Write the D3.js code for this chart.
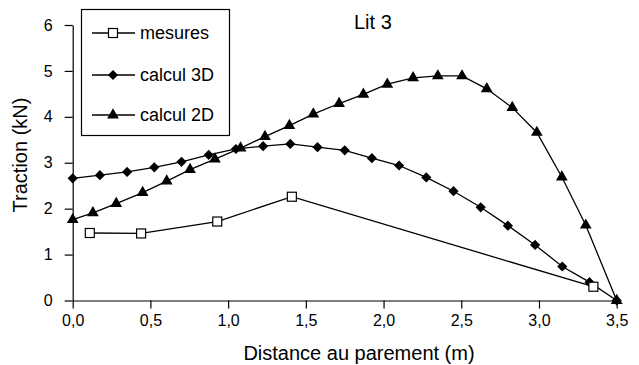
<!DOCTYPE html>
<html>
<head>
<meta charset="utf-8">
<script src="https://cdn.jsdelivr.net/npm/d3@7"></script>
<style>
  body { margin: 0; background: #fff; }
  svg text { font-family: "Liberation Sans", Arial, sans-serif; fill: #000; }
</style>
</head>
<body>
<div id="chart"></div>
<script>
// mesures (squares)
var mesuresX = [0.11, 0.44, 0.93, 1.41, 3.35]
var mesuresY = [1.47, 1.46, 1.72, 2.26, 0.30]

// calcul 3D (diamonds)
var calc3dX = [0, 0.175, 0.35, 0.525, 0.70, 0.875, 1.05, 1.225, 1.40, 1.575, 1.75,
  1.925, 2.10, 2.275, 2.45, 2.625, 2.80, 2.975, 3.15, 3.325, 3.50]
var calc3dY = [2.66, 2.73, 2.80, 2.90, 3.02, 3.17, 3.30, 3.36, 3.41, 3.34, 3.27,
  3.10, 2.94, 2.68, 2.38, 2.03, 1.63, 1.21, 0.74, 0.40, 0]

// calcul 2D (triangles)
var calc2dX = [0, 0.13, 0.28, 0.45, 0.605, 0.755, 0.915, 1.08, 1.237, 1.394, 1.548,
  1.714, 1.87, 2.024, 2.19, 2.349, 2.505, 2.664, 2.828, 2.986, 3.147, 3.301, 3.50]
var calc2dY = [1.76, 1.91, 2.11, 2.35, 2.60, 2.85, 3.08, 3.32, 3.57, 3.81, 4.06,
  4.29, 4.49, 4.71, 4.85, 4.89, 4.89, 4.61, 4.20, 3.66, 2.69, 1.64, 0]

var xTickValues = [0, 0.5, 1, 1.5, 2, 2.5, 3, 3.5]
var xTickLabels = ["0,0", "0,5", "1,0", "1,5", "2,0", "2,5", "3,0", "3,5"]
var yTickValues = [0, 1, 2, 3, 4, 5, 6]
var yTickLabels = ["0", "1", "2", "3", "4", "5", "6"]

var seriesNames = ["mesures", "calcul 3D", "calcul 2D"]

var width = 639, height = 365

var svg = d3.select('#chart').append('svg')
  .attr('width', width)
  .attr('height', height)

var x = d3.scaleLinear()
  .domain([0, 3.5])
  .range([72.7, 616.7])

var y = d3.scaleLinear()
  .domain([0, 6])
  .range([300.5, 25])

// axes
var xAxis = d3.axisBottom(x)
  .tickValues(xTickValues)
  .tickFormat(function(d, i) { return xTickLabels[i] })
  .tickSizeInner(8)
  .tickSizeOuter(0)
  .tickPadding(6)

var yAxis = d3.axisLeft(y)
  .tickValues(yTickValues)
  .tickFormat(function(d, i) { return yTickLabels[i] })
  .tickSizeInner(8)
  .tickSizeOuter(0)
  .tickPadding(12)

var gx = svg.append('g')
  .attr('transform', 'translate(0,' + y(0) + ')')
  .call(xAxis)
var gy = svg.append('g')
  .attr('transform', 'translate(' + x(0) + ',0)')
  .call(yAxis)

svg.selectAll('.domain, .tick line').attr('stroke', '#000').attr('stroke-width', 1.2)
gx.selectAll('text').attr('font-size', 16).attr('font-family', '"Liberation Sans", Arial, sans-serif')
gy.selectAll('text').attr('font-size', 16).attr('font-family', '"Liberation Sans", Arial, sans-serif')

// axis titles
svg.append('text')
  .attr('x', 359)
  .attr('y', 360)
  .attr('text-anchor', 'middle')
  .attr('font-size', 20)
  .text('Distance au parement (m)')

svg.append('text')
  .attr('transform', 'translate(27,155) rotate(-90)')
  .attr('text-anchor', 'middle')
  .attr('font-size', 20)
  .text('Traction (kN)')

svg.append('text')
  .attr('x', 354)
  .attr('y', 29)
  .attr('font-size', 20)
  .text('Lit 3')

// lines
var line = d3.line()
  .x(function(d) { return x(d[0]) })
  .y(function(d) { return y(d[1]) })

var mesures = d3.zip(mesuresX, mesuresY)
var calc3d = d3.zip(calc3dX, calc3dY)
var calc2d = d3.zip(calc2dX, calc2dY)

var plot = svg.append('g')

plot.append('path').datum(calc2d).attr('d', line)
  .attr('fill', 'none').attr('stroke', '#000').attr('stroke-width', 1.3)
plot.append('path').datum(calc3d).attr('d', line)
  .attr('fill', 'none').attr('stroke', '#000').attr('stroke-width', 1.3)
plot.append('path').datum(mesures).attr('d', line)
  .attr('fill', 'none').attr('stroke', '#000').attr('stroke-width', 1.3)

// markers
var triSym = d3.symbol().type(d3.symbolTriangle).size(60)
var diaSym = d3.symbol().type(d3.symbolSquare).size(52)

function drawTriangles(g, data) {
  g.selectAll(null).data(data).enter().append('path')
    .attr('d', triSym)
    .attr('transform', function(d) { return 'translate(' + x(d[0]) + ',' + y(d[1]) + ')' })
    .attr('fill', '#000')
}
function drawDiamonds(g, data) {
  g.selectAll(null).data(data).enter().append('path')
    .attr('d', diaSym)
    .attr('transform', function(d) { return 'translate(' + x(d[0]) + ',' + y(d[1]) + ') rotate(45)' })
    .attr('fill', '#000')
}
function drawSquares(g, data) {
  g.selectAll(null).data(data).enter().append('rect')
    .attr('x', function(d) { return x(d[0]) - 4.5 })
    .attr('y', function(d) { return y(d[1]) - 4.5 })
    .attr('width', 9).attr('height', 9)
    .attr('fill', '#fff').attr('stroke', '#000').attr('stroke-width', 1.2)
}

drawTriangles(plot.append('g'), calc2d)
drawDiamonds(plot.append('g'), calc3d)
drawSquares(plot.append('g'), mesures)

// legend
var legend = svg.append('g')
legend.append('rect')
  .attr('x', 81.5).attr('y', 9.5)
  .attr('width', 148).attr('height', 126)
  .attr('fill', '#fff').attr('stroke', '#000').attr('stroke-width', 1.2)

var legendRows = [33, 75, 115]
seriesNames.forEach(function(name, i) {
  var ly = legendRows[i]
  legend.append('line')
    .attr('x1', 92).attr('x2', 135).attr('y1', ly).attr('y2', ly)
    .attr('stroke', '#000').attr('stroke-width', 1.3)
  if (i == 0) {
    legend.append('rect').attr('x', 113 - 4.5).attr('y', ly - 4.5)
      .attr('width', 9).attr('height', 9)
      .attr('fill', '#fff').attr('stroke', '#000').attr('stroke-width', 1.2)
  } else if (i == 1) {
    legend.append('path').attr('d', diaSym)
      .attr('transform', 'translate(113,' + ly + ') rotate(45)').attr('fill', '#000')
  } else {
    legend.append('path').attr('d', triSym)
      .attr('transform', 'translate(113,' + ly + ')').attr('fill', '#000')
  }
  legend.append('text')
    .attr('x', 140).attr('y', ly + 6)
    .attr('font-size', 18)
    .text(name)
})
</script>
</body>
</html>
